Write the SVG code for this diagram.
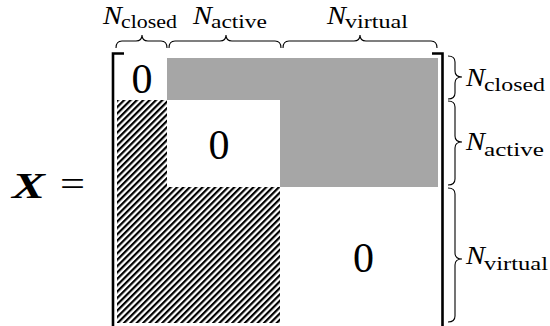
<svg xmlns="http://www.w3.org/2000/svg" width="550" height="326" viewBox="0 0 550 326">
<defs>
<pattern id="hatch" patternUnits="userSpaceOnUse" width="4.5" height="4.5" patternTransform="rotate(45)">
<rect x="0" y="0" width="2.2" height="4.5" fill="#000"/>
</pattern>
<style>
.t{font-family:"Liberation Serif","DejaVu Serif",serif;fill:#000}
.N{font-style:italic;font-size:25px}
.sub{font-size:19px}
.zero{font-size:42px;text-anchor:middle}
.br{fill:none;stroke:#000;stroke-width:1.1}
.bk{fill:none;stroke:#000;stroke-width:2.6}
</style>
</defs>
<rect width="550" height="326" fill="#fff"/>
<g id="lhs">
<text class="t" x="12" y="198" font-size="36" font-weight="bold" font-style="italic" textLength="33" lengthAdjust="spacingAndGlyphs">X</text>
<text class="t" x="60" y="196" font-size="36" textLength="25" lengthAdjust="spacingAndGlyphs">=</text>
</g>
<g id="blocks">
<path id="gray" d="M167,58 H438 V187 H280 V100 H167 Z" fill="#a6a6a6"/>
<path id="hatched" d="M117,100 H167 V187 H280 V323 H117 Z" fill="url(#hatch)"/>
</g>
<g id="zeros">
<text class="t zero" x="142" y="93">0</text>
<text class="t zero" x="219" y="159">0</text>
<text class="t zero" x="363.5" y="272">0</text>
</g>
<g id="matrix-brackets">
<path class="bk" d="M124,53.5 H113 V330"/>
<path class="bk" d="M432,53.5 H442.5 V330"/>
</g>
<g id="connectors">
<path class="br" d="M116,48 Q116,41 122,41 H136 Q142,41 142,35 Q142,41 148,41 H161 Q167,41 167,48"/>
<path class="br" d="M169,48 Q169,41 175,41 H220 Q226,41 226,35 Q226,41 232,41 H275 Q281,41 281,48"/>
<path class="br" d="M283,48 Q283,41 289,41 H354 Q360,41 360,35 Q360,41 366,41 H431 Q437,41 437,48"/>
<path class="br" d="M448,56 Q455,56 455,62 V71 Q455,77 462,77 Q455,77 455,83 V93 Q455,99 448,99"/>
<path class="br" d="M448,101 Q455,101 455,107 V136 Q455,142 462,142 Q455,142 455,148 V179 Q455,185 448,185"/>
<path class="br" d="M448,188 Q455,188 455,194 V253 Q455,259 462,259 Q455,259 455,265 V316 Q455,322 448,322"/>
</g>
<g id="top-labels">
<text class="t N" x="103" y="24" textLength="19" lengthAdjust="spacingAndGlyphs">N</text>
<text class="t sub" x="121" y="28" textLength="56" lengthAdjust="spacingAndGlyphs">closed</text>
<text class="t N" x="193" y="24" textLength="19" lengthAdjust="spacingAndGlyphs">N</text>
<text class="t sub" x="211" y="28" textLength="56" lengthAdjust="spacingAndGlyphs">active</text>
<text class="t N" x="327" y="24" textLength="19" lengthAdjust="spacingAndGlyphs">N</text>
<text class="t sub" x="345" y="28" textLength="63" lengthAdjust="spacingAndGlyphs">virtual</text>
</g>
<g id="right-labels">
<text class="t N" x="466" y="86" textLength="19" lengthAdjust="spacingAndGlyphs">N</text>
<text class="t sub" x="484" y="91" textLength="61" lengthAdjust="spacingAndGlyphs">closed</text>
<text class="t N" x="466" y="150" textLength="19" lengthAdjust="spacingAndGlyphs">N</text>
<text class="t sub" x="484" y="156" textLength="60" lengthAdjust="spacingAndGlyphs">active</text>
<text class="t N" x="466" y="264" textLength="19" lengthAdjust="spacingAndGlyphs">N</text>
<text class="t sub" x="484" y="270" textLength="64" lengthAdjust="spacingAndGlyphs">virtual</text>
</g>
</svg>
